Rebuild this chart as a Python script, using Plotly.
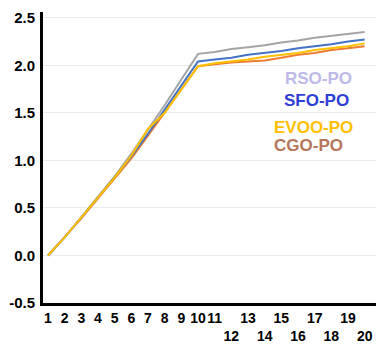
import plotly.graph_objects as go

x_vals = list(range(1, 21))
tick_labels = [str(i) if (i <= 11 or i % 2 == 1) else "<br>" + str(i) for i in x_vals]

series_names = ["CGO-PO", "RSO-PO", "SFO-PO", "EVOO-PO"]
cgo = [0, 0.19, 0.39, 0.60, 0.81, 1.02, 1.26, 1.50, 1.74, 1.99,
       2.01, 2.03, 2.04, 2.05, 2.08, 2.11, 2.13, 2.16, 2.18, 2.20]
rso = [0, 0.19, 0.40, 0.61, 0.83, 1.07, 1.32, 1.58, 1.85, 2.12,
       2.14, 2.17, 2.19, 2.21, 2.24, 2.26, 2.29, 2.31, 2.33, 2.35]
sfo = [0, 0.19, 0.40, 0.61, 0.82, 1.04, 1.28, 1.53, 1.79, 2.04,
       2.06, 2.08, 2.11, 2.13, 2.15, 2.18, 2.20, 2.22, 2.25, 2.27]
evoo = [0, 0.19, 0.40, 0.61, 0.82, 1.05, 1.33, 1.50, 1.74, 1.99,
        2.02, 2.04, 2.06, 2.09, 2.11, 2.13, 2.16, 2.18, 2.20, 2.23]
series_values = [cgo, rso, sfo, evoo]
line_colors = ["#ed7d31", "#a5a5a5", "#4472c4", "#ffc000"]

legend_labels = ["RSO-PO", "SFO-PO", "EVOO-PO", "CGO-PO"]
legend_colors = ["#bdbae8", "#2f3fd4", "#ffc000", "#b5765a"]
legend_y = [1.86, 1.63, 1.35, 1.16]
legend_x = [17.2, 17.1, 16.9, 16.6]

fig = go.Figure()
for name, vals, col in zip(series_names, series_values, line_colors):
    fig.add_trace(go.Scatter(x=x_vals, y=vals, mode="lines", name=name,
                             line=dict(color=col, width=2)))

for txt, col, xx, yy in zip(legend_labels, legend_colors, legend_x, legend_y):
    fig.add_annotation(x=xx, y=yy, text="<b>" + txt + "</b>", showarrow=False,
                       font=dict(family="Liberation Sans, Arial", size=17, color=col),
                       xanchor="center", yanchor="middle")

fig.update_layout(
    width=376, height=336,
    margin=dict(l=35, r=6, t=4, b=41),
    paper_bgcolor="white", plot_bgcolor="white",
    showlegend=False,
    font=dict(family="Liberation Sans, Arial", color="black"),
)
fig.update_xaxes(
    range=[0.7, 20.8], tickvals=x_vals, ticktext=tick_labels, tickangle=0,
    automargin=False, ticklabelstandoff=0,
    showgrid=False, zeroline=False, showline=True, linecolor="black", linewidth=3,
    ticks="", tickfont=dict(size=14, family="Liberation Sans, Arial", color="black", weight="bold"),
)
fig.update_yaxes(
    range=[-0.5, 2.56], tickvals=[-0.5, 0, 0.5, 1.0, 1.5, 2.0, 2.5],
    ticktext=["-0.5", "0.0", "0.5", "1.0", "1.5", "2.0", "2.5"],
    automargin=False, ticklabelstandoff=2,
    showgrid=True, gridcolor="#ebebeb", gridwidth=1, zeroline=False,
    showline=True, linecolor="black", linewidth=3, ticks="",
    tickfont=dict(size=15, family="Liberation Sans, Arial", color="black", weight="bold"),
)

fig.write_html("out.html")
